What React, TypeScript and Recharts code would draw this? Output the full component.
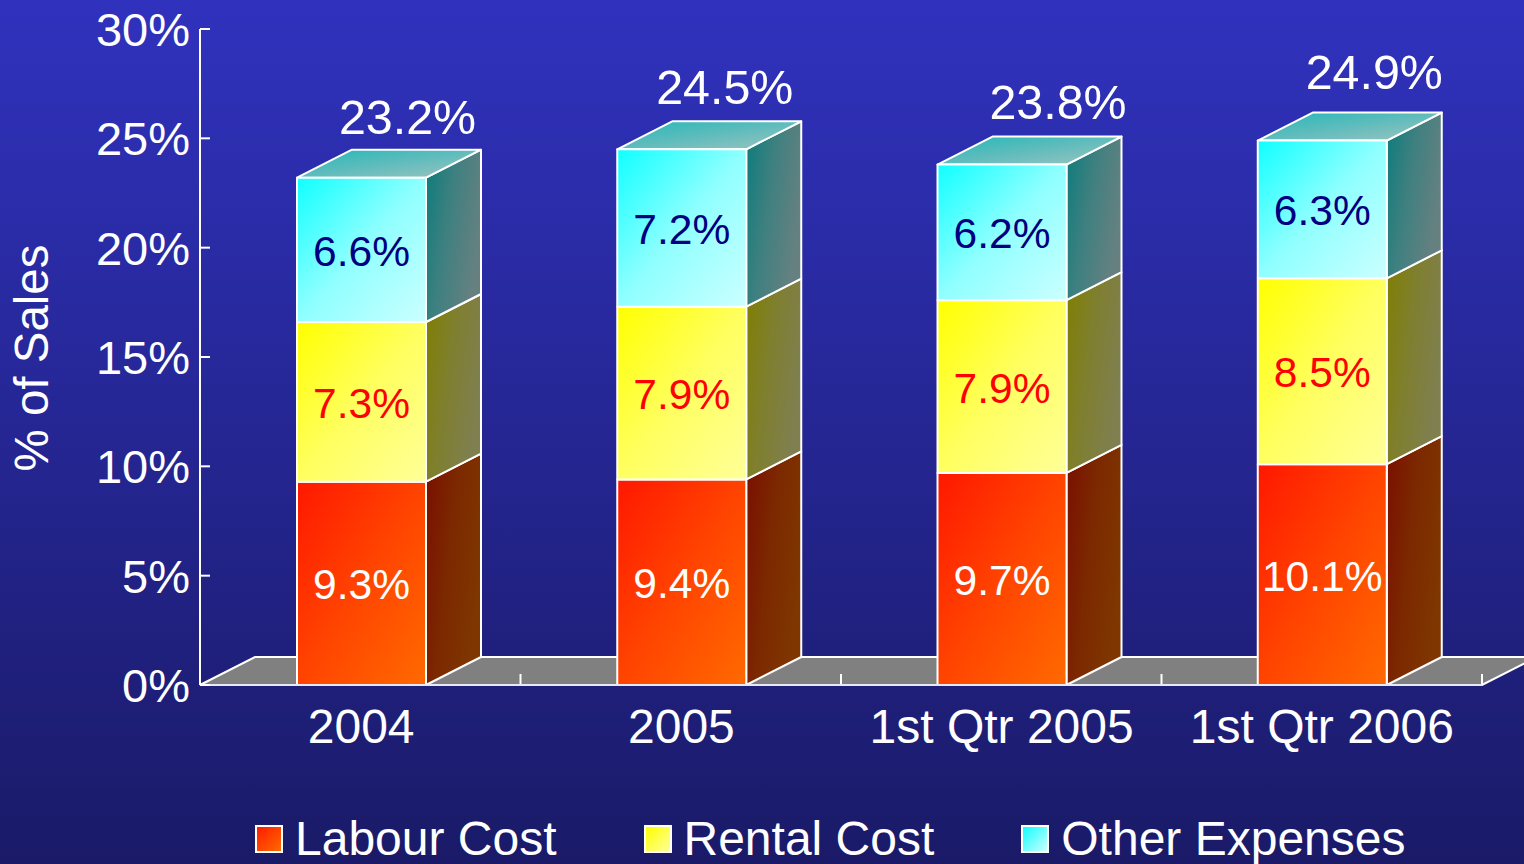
import {
  Bar,
  BarChart,
  LabelList,
  Legend,
  XAxis,
  YAxis,
  usePlotArea,
} from 'recharts'

const periods = ['2004', '2005', '1st Qtr 2005', '1st Qtr 2006']
const labour = [9.3, 9.4, 9.7, 10.1]
const rental = [7.3, 7.9, 7.9, 8.5]
const other = [6.6, 7.2, 6.2, 6.3]
const totals = [23.2, 24.5, 23.8, 24.9]
const yTicks = [0, 5, 10, 15, 20, 25, 30]

const data = periods.map((period, i) => ({
  period,
  labour: labour[i],
  rental: rental[i],
  other: other[i],
  total: totals[i],
}))

const FONT = '"Liberation Sans", Arial, sans-serif'
const DX = 55
const DY = 28

// the totals were placed by hand in the original, so each one has its own nudge
const TOTAL_NUDGE = [
  { x: 46, y: -44 },
  { x: 43, y: -45 },
  { x: 56, y: -46 },
  { x: 52, y: -52 },
]

const GRADS = [
  { id: 'labourFront', stops: ['#ff1800', '#ff4400', '#ff6a00'], side: false },
  { id: 'labourSide', stops: ['#7a0e00', '#7c2800', '#7f3600'], side: true },
  { id: 'rentalFront', stops: ['#ffff00', '#ffff60', '#ffff99'], side: false },
  { id: 'rentalSide', stops: ['#7f7f00', '#7f7f30', '#7f7f50'], side: true },
  { id: 'otherFront', stops: ['#10ffff', '#90ffff', '#ccffff'], side: false },
  { id: 'otherSide', stops: ['#0a7c7c', '#408080', '#668080'], side: true },
  { id: 'otherTop', stops: ['#22b8b8', '#60bcbc', '#a0c4c0'], side: false },
]

const LEGEND = [
  { label: 'Labour Cost', from: '#ff1c00', to: '#ff6a00', gap: 87 },
  { label: 'Rental Cost', from: '#ffff00', to: '#ffff99', gap: 87 },
  { label: 'Other Expenses', from: '#10ffff', to: '#ccffff', gap: 0 },
]

function makeBlock(name: string, withTop: boolean) {
  return function Block(props: any) {
    const { x, y, width, height } = props
    return (
      <g stroke="#fff" strokeWidth={2} strokeLinejoin="round">
        <polygon
          points={`${x + width},${y} ${x + width + DX},${y - DY} ${x + width + DX},${y + height - DY} ${x + width},${y + height}`}
          fill={`url(#${name}Side)`}
        />
        {withTop && (
          <polygon
            points={`${x},${y} ${x + DX},${y - DY} ${x + width + DX},${y - DY} ${x + width},${y}`}
            fill={`url(#${name}Top)`}
          />
        )}
        <rect x={x} y={y} width={width} height={height} fill={`url(#${name}Front)`} />
      </g>
    )
  }
}

function Floor() {
  const area = usePlotArea()
  if (!area) return null
  const { x, y, width, height } = area
  const base = y + height
  return (
    <g>
      <polygon
        points={`${x},${base} ${x + DX},${base - DY} ${x + width + DX},${base - DY} ${x + width},${base}`}
        fill="#808080"
        stroke="#fff"
        strokeWidth={2}
      />
      {periods.map((p, i) => {
        const tx = x + (width * (i + 1)) / periods.length
        return <line key={p} x1={tx} x2={tx} y1={base} y2={base - 11} stroke="#fff" strokeWidth={2} />
      })}
    </g>
  )
}

function YTick(props: any) {
  const { x, y, payload } = props
  return (
    <g>
      <line x1={x + 10} x2={x + 20} y1={y} y2={y} stroke="#fff" strokeWidth={2} />
      <text x={x} y={y} dy={17} textAnchor="end" fill="#fff" fontSize={47} fontFamily={FONT}>
        {payload.value}%
      </text>
    </g>
  )
}

function TotalLabel(props: any) {
  const { x, y, width, value, index } = props
  const nudge = TOTAL_NUDGE[index]
  return (
    <text
      x={x + width / 2 + nudge.x}
      y={y + nudge.y}
      textAnchor="middle"
      fill="#fff"
      fontSize={48.4}
      fontFamily={FONT}
    >
      {value.toFixed(1)}%
    </text>
  )
}

function LegendRow() {
  return (
    <div
      style={{
        display: 'flex',
        alignItems: 'center',
        position: 'relative',
        top: 12,
        paddingLeft: 255,
        height: 46,
        fontFamily: FONT,
        fontSize: 48,
        color: '#fff',
        lineHeight: '46px',
        whiteSpace: 'nowrap',
      }}
    >
      {LEGEND.map((item) => (
        <div key={item.label} style={{ display: 'flex', alignItems: 'center', marginRight: item.gap }}>
          <span
            style={{
              width: 24,
              height: 24,
              border: '2px solid #fff',
              marginRight: 12,
              background: `linear-gradient(135deg, ${item.from}, ${item.to})`,
            }}
          />
          {item.label}
        </div>
      ))}
    </div>
  )
}

const innerLabel = (fill: string) => ({
  position: 'center' as const,
  fill,
  fontSize: 42.5,
  fontFamily: FONT,
  dy: 1,
  formatter: (v: number) => `${v.toFixed(1)}%`,
})

export default function App() {
  return (
    <div
      style={{
        position: 'fixed',
        left: 0,
        top: 0,
        width: 1524,
        height: 864,
        overflow: 'hidden',
        background: 'linear-gradient(180deg, #3032be 0%, #1a1a68 100%)',
      }}
    >
      <BarChart
        width={1524}
        height={864}
        data={data}
        barSize={129}
        margin={{ top: 29, right: 42, bottom: 0, left: 0 }}
      >
        <defs>
          {GRADS.map((g) => (
            <linearGradient key={g.id} id={g.id} x1="0" y1="0" x2="1" y2={g.side ? 0.45 : 1}>
              <stop offset="0%" stopColor={g.stops[0]} />
              <stop offset="50%" stopColor={g.stops[1]} />
              <stop offset="100%" stopColor={g.stops[2]} />
            </linearGradient>
          ))}
        </defs>
        <Floor />
        <XAxis
          dataKey="period"
          interval={0}
          height={119}
          padding={{ left: 1, right: 0 }}
          tickLine={false}
          tickMargin={18}
          axisLine={{ stroke: '#e8e8f4', strokeWidth: 2 }}
          tick={{ fill: '#fff', fontSize: 48, fontFamily: FONT }}
        />
        <YAxis
          width={200}
          domain={[0, 30]}
          ticks={yTicks}
          interval={0}
          tickLine={false}
          tickSize={0}
          tickMargin={10}
          axisLine={{ stroke: '#fff', strokeWidth: 2 }}
          tick={<YTick />}
          label={{
            value: '% of Sales',
            angle: -90,
            position: 'insideLeft',
            offset: 0,
            dx: 31,
            dy: 1,
            fill: '#fff',
            fontSize: 47.5,
            fontFamily: FONT,
            style: { textAnchor: 'middle' },
          }}
        />
        <Bar dataKey="labour" stackId="a" isAnimationActive={false} shape={makeBlock('labour', false)}>
          <LabelList dataKey="labour" {...innerLabel('#fff')} />
        </Bar>
        <Bar dataKey="rental" stackId="a" isAnimationActive={false} shape={makeBlock('rental', false)}>
          <LabelList dataKey="rental" {...innerLabel('#ff0000')} />
        </Bar>
        <Bar dataKey="other" stackId="a" isAnimationActive={false} shape={makeBlock('other', true)}>
          <LabelList dataKey="other" {...innerLabel('#000080')} />
          <LabelList dataKey="total" content={<TotalLabel />} />
        </Bar>
        <Legend verticalAlign="bottom" height={60} content={<LegendRow />} />
      </BarChart>
    </div>
  )
}
